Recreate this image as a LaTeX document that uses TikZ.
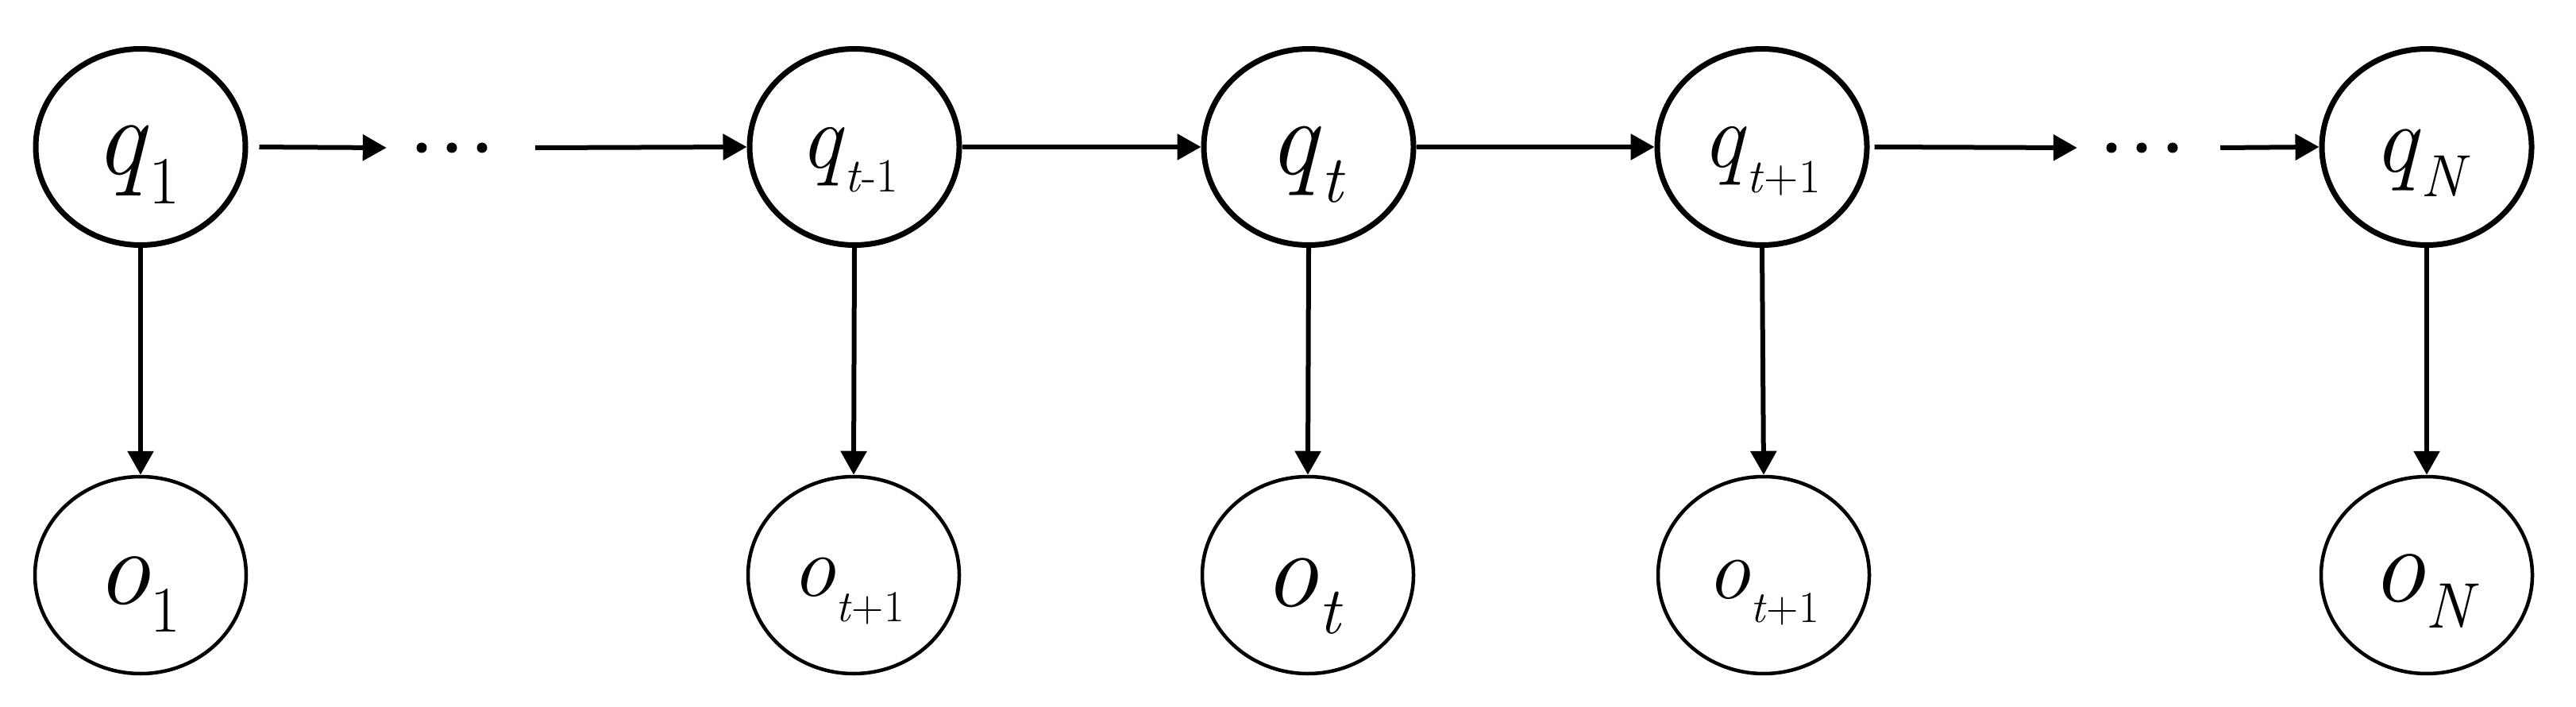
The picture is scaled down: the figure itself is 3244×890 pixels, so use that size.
\documentclass[tikz,border=0pt]{standalone}
\usepackage{fontspec}
\usetikzlibrary{shapes.geometric,arrows.meta}
\newcommand{\hmlab}[5]{{\fontsize{#1}{#1}\selectfont\textit{#2}}\raisebox{-#5pt}{\fontsize{#3}{#3}\selectfont #4}}
\tikzset{
  hid/.style={ellipse,draw,line width=7pt,minimum width=264pt,minimum height=247pt,inner sep=0pt},
  obs/.style={ellipse,draw,line width=4.5pt,minimum width=266pt,minimum height=248pt,inner sep=0pt},
  lbl/.style={inner sep=0pt,anchor=base},
  gap/.style={inner sep=0pt,minimum height=10pt},
  arr/.style={line width=6pt,-{Triangle[length=30pt,width=32pt]}},
  dot/.style={fill=black}
}
\begin{document}
\begin{tikzpicture}[x=1pt,y=-1pt]
\useasboundingbox (0,0) rectangle (3244,890);
% hidden states
\node[hid] (q1) at (177,185) {};
\node[hid] (qtm) at (1076,185) {};
\node[hid] (qt) at (1648,185) {};
\node[hid] (qtp) at (2219,185) {};
\node[hid] (qN) at (3056,185) {};
% observations
\node[obs] (o1) at (177,724) {};
\node[obs] (otm) at (1075,724) {};
\node[obs] (ot) at (1647,724) {};
\node[obs] (otp) at (2221,724) {};
\node[obs] (oN) at (3056,724) {};
% labels
\node[lbl] (q1l) at (173,220) {\hmlab{140pt}{q}{85pt}{1}{37}};
\node[lbl] (qtml) at (1069,212) {\hmlab{116pt}{q}{60pt}{\textit{t}-1}{30}};
\node[lbl] (qtl) at (1646,220) {\hmlab{137pt}{q}{84pt}{\textit{t}}{35}};
\node[lbl] (qtpl) at (2218,211) {\hmlab{116pt}{q}{60pt}{\textit{t}+1}{32}};
\node[lbl] (qNl) at (3050,217) {\hmlab{122pt}{q}{75pt}{\textit{N}}{31}};
\node[lbl] (o1l) at (174,760) {\hmlab{136pt}{o}{82pt}{1}{35}};
\node[lbl] (otml) at (1068,750) {\hmlab{110pt}{o}{56pt}{\textit{t}+1}{32}};
\node[lbl] (otl) at (1641,763) {\hmlab{138pt}{o}{84pt}{\textit{t}}{34}};
\node[lbl] (otpl) at (2220,753) {\hmlab{110pt}{o}{56pt}{\textit{t}+1}{30}};
\node[lbl] (oNl) at (3054,757) {\hmlab{136pt}{o}{81pt}{\textit{N}}{33}};
% ellipsis gaps
\node[gap,minimum width=187pt] (dl) at (580.5,186) {};
\node[gap,minimum width=180pt] (dr) at (2706,186) {};
\foreach \x in {531,569,607} \fill[dot] (\x,186) circle (6.5pt);
\foreach \x in {2659,2697,2736} \fill[dot] (\x,186) circle (6.5pt);
% horizontal arrows
\draw[arr,shorten <=14pt] (q1.east) -- (dl.west);
\draw[arr] (dl.east) -- (qtm.west);
\draw[arr] (qtm.east) -- (qt.west);
\draw[arr] (qt.east) -- (qtp.west);
\draw[arr,shorten <=6pt] (qtp.east) -- (dr.west);
\draw[arr] (dr.east) -- (qN.west);
% vertical arrows
\draw[arr] (q1.south) -- (o1.north);
\draw[arr] (qtm.south) -- (otm.north);
\draw[arr] (qt.south) -- (ot.north);
\draw[arr] (qtp.south) -- (otp.north);
\draw[arr] (qN.south) -- (oN.north);
\end{tikzpicture}
\end{document}
